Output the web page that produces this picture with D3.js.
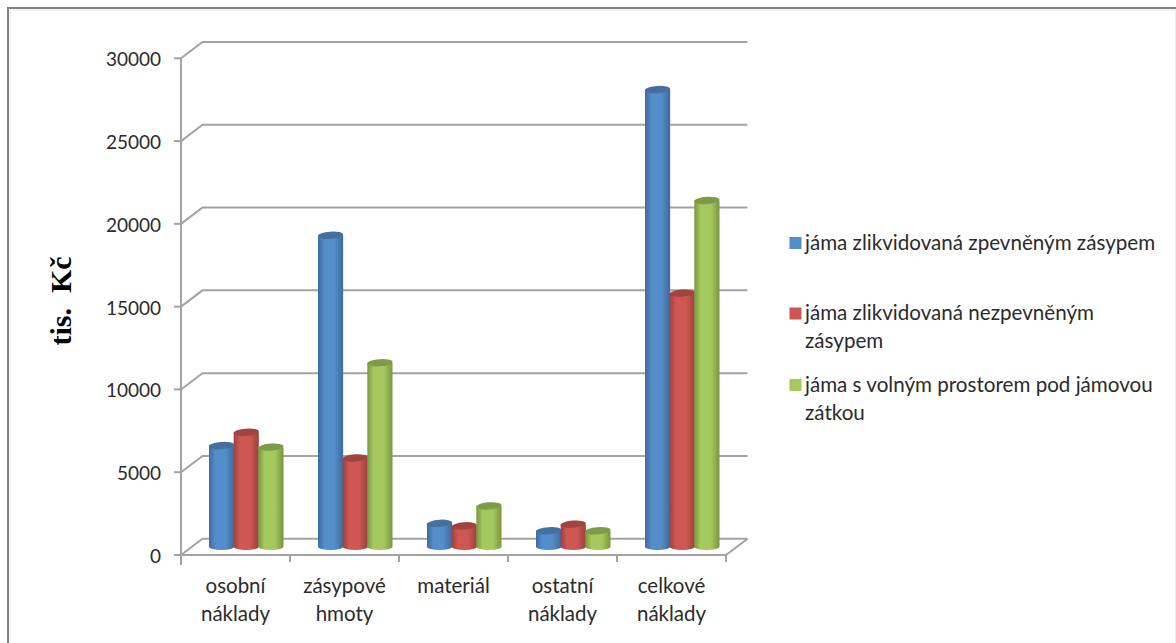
<!DOCTYPE html>
<html>
<head>
<meta charset="utf-8">
<script src="https://cdn.jsdelivr.net/npm/d3@7/dist/d3.min.js"></script>
<style>
html,body{margin:0;padding:0;background:#fff;}
svg{display:block;}
text{font-family:Lato,"Open Sans",sans-serif;fill:#2b2b2b;}
</style>
</head>
<body>
<svg id="chart" width="1176" height="643"></svg>
<script>
const categories = [["osobní","náklady"],["zásypové","hmoty"],["materiál"],["ostatní","náklady"],["celkové","náklady"]];
const seriesNames = [
  ["jáma zlikvidovaná zpevněným zásypem"],
  ["jáma zlikvidovaná nezpevněným","zásypem"],
  ["jáma s volným prostorem pod jámovou","zátkou"]
];
const zpevneny = [6100,18800,1400,950,27600];
const nezpevneny = [6900,5350,1250,1350,15300];
const volnyProstor = [6000,11100,2450,950,20900];
const yTicks = [0,5000,10000,15000,20000,25000,30000];
const palette = [
  {dark:"#3f6a9c",mid:"#558cca",top:"#44709f"},
  {dark:"#98423f",mid:"#cf5753",top:"#a1433f"},
  {dark:"#7a963f",mid:"#a6c95f",top:"#7e9b48"}
];

const svg = d3.select("#chart");
const allSeries = [zpevneny,nezpevneny,volnyProstor];

const plot = {left:181,right:726,floor:555,ceil:58.3,dx:21.5,dy:-16.3};
const y = d3.scaleLinear().domain([0,30000]).range([plot.floor,plot.ceil]);
const x0 = d3.scaleBand().domain(d3.range(categories.length)).range([plot.left,plot.right]);
const x1 = d3.scaleBand().domain(d3.range(allSeries.length)).range([0,74]);
const axisColor = "#a3a3a3";

// Cylinder shading: dark edges around a lighter middle
const defs = svg.append("defs");
palette.forEach((c,i)=>{
  const g = defs.append("linearGradient").attr("id","cyl"+i).attr("x1",0).attr("x2",1).attr("y1",0).attr("y2",0);
  [[0,c.dark],[0.25,c.mid],[0.65,c.mid],[1,c.dark]].forEach(([o,col])=>g.append("stop").attr("offset",o).attr("stop-color",col));
});

// Outer frame, open toward the bottom, with a faint inner shadow
svg.append("path").attr("d","M10,643V10H1176").attr("fill","none").attr("stroke","#e6e6e6").attr("stroke-width",1);
svg.append("path").attr("d","M8,643V8H1176").attr("fill","none").attr("stroke","#828282").attr("stroke-width",2);
svg.append("line").attr("x1",1175.5).attr("x2",1175.5).attr("y1",9).attr("y2",643).attr("stroke","#ececec");

// Back-wall gridlines with their slanted returns to the value axis
const grid = svg.append("g").attr("fill","none").attr("stroke",axisColor).attr("stroke-width",2);
yTicks.forEach(t=>{
  const yy = y(t);
  grid.append("path").attr("d",`M${plot.left},${yy}L${plot.left+plot.dx},${yy+plot.dy}H${plot.right+plot.dx}`);
  grid.append("line").attr("x1",plot.left-7).attr("x2",plot.left).attr("y1",yy).attr("y2",yy);
});
grid.append("path").attr("d",`M${plot.left},${y(30000)}V${plot.floor+10}`);
grid.append("path").attr("d",`M${plot.left},${plot.floor}H${plot.right}L${plot.right+plot.dx},${plot.floor+plot.dy}`);
d3.range(categories.length+1).forEach(i=>{
  const xx = plot.left+i*x0.step();
  grid.append("line").attr("x1",xx).attr("x2",xx).attr("y1",plot.floor).attr("y2",plot.floor+7);
});

// Cylindrical columns, rising from the middle of the floor
const baseY = v=>y(v)-8.5;
const depthX = 28;
const bars = svg.append("g");
categories.forEach((c,ci)=>{
  allSeries.forEach((s,si)=>{
    const left = x0(ci)+depthX+x1(si);
    const w = x1.bandwidth()+0.5;
    const top = baseY(s[ci]);
    const bottom = baseY(0);
    const rx = w/2, ry = 3.6;
    bars.append("path")
      .attr("d",`M${left},${top}V${bottom}A${rx},${ry} 0 0 0 ${left+w},${bottom}V${top}Z`)
      .attr("fill",`url(#cyl${si})`);
    bars.append("ellipse")
      .attr("cx",left+rx).attr("cy",top).attr("rx",rx).attr("ry",ry)
      .attr("transform",`rotate(-4 ${left+rx} ${top})`)
      .attr("fill",palette[si].top);
  });
});

// Value labels
svg.append("g").selectAll("text").data(yTicks).join("text")
  .attr("x",161).attr("y",d=>y(d)+8).attr("text-anchor","end")
  .attr("font-size",19).text(d=>d);

// Category labels
categories.forEach((lines,ci)=>{
  const cx = x0(ci)+x0.bandwidth()/2;
  lines.forEach((line,li)=>{
    svg.append("text").attr("x",cx).attr("y",593+li*28).attr("text-anchor","middle")
      .attr("font-size",20.5).text(line);
  });
});

// Rotated unit title
svg.append("text").attr("transform","translate(71,301) rotate(-90)")
  .attr("text-anchor","middle").attr("font-size",30).attr("font-weight","bold")
  .style("font-family","'Liberation Serif',serif").style("fill","#000").style("white-space","pre").text("tis.  Kč");

// Legend
const legendY = [243,313.5,385];
seriesNames.forEach((lines,i)=>{
  svg.append("rect").attr("x",789.5).attr("y",legendY[i]-6).attr("width",12).attr("height",12).attr("fill",palette[i].mid);
  lines.forEach((line,li)=>{
    svg.append("text").attr("x",805).attr("y",legendY[i]+6.5+li*28).attr("font-size",20.6).text(line);
  });
});
</script>
</body>
</html>
